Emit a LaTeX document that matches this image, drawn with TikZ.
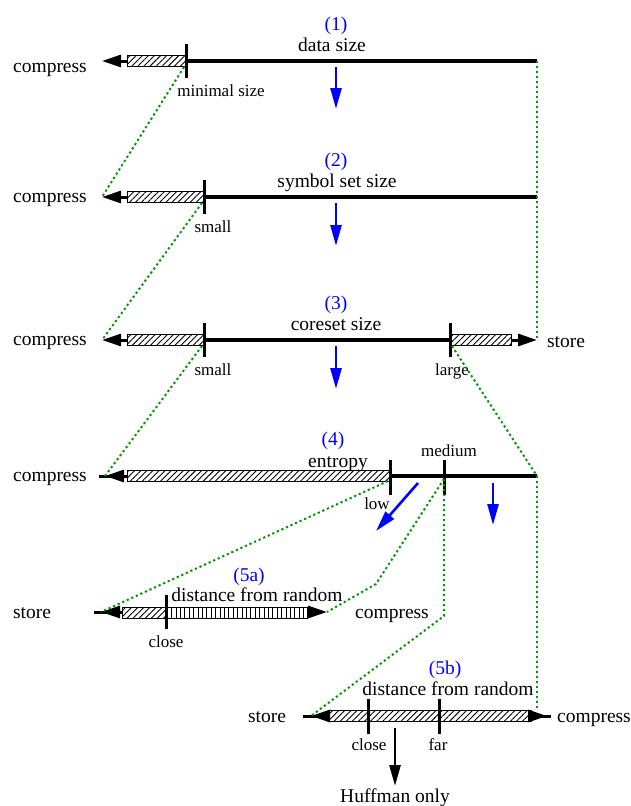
\documentclass[tikz,border=0pt]{standalone}
\usepackage{fontspec}
\setmainfont{Liberation Serif}
\usetikzlibrary{arrows.meta,patterns.meta}

\definecolor{linkgreen}{RGB}{0,150,0}
\definecolor{stepblue}{RGB}{0,0,255}

\begin{document}
\begin{tikzpicture}[x=1pt,y=-1pt,
  txt/.style={font=\fontsize{19.5}{22}\selectfont, anchor=base, inner sep=0pt},
  lbl/.style={font=\fontsize{17}{20}\selectfont, anchor=base, inner sep=0pt},
  num/.style={txt, text=stepblue},
  axis/.style={line width=3.4pt},
  tickmark/.style={line width=3pt},
  hatchbox/.style={draw, line width=0.9pt, pattern={Lines[angle=45,distance=4.3pt,line width=0.9pt]}},
  stripebox/.style={draw, line width=0.9pt, pattern={Lines[angle=90,distance=4.4pt,line width=1pt]}},
  endarrow/.style={line width=3pt, -{Triangle[length=19pt,width=12pt]}},
  bluearrow/.style={draw=stepblue, line width=2.6pt, -{Triangle[length=21pt,width=11pt]}},
  blackarrow/.style={line width=2.6pt, -{Triangle[length=21pt,width=11pt]}},
  link/.style={draw=linkgreen, line width=2pt, dash pattern=on 2.2pt off 2.8pt},
]
\useasboundingbox (0,0) rectangle (631,806);

% ---------- (1) data size ----------
\coordinate (t1) at (102,61);
\coordinate (b1l) at (127,61);
\coordinate (b1r) at (186,61);
\coordinate (e1) at (537,61);
\coordinate (k1) at (184,67);
\path[hatchbox] (127,55.5) rectangle (186,66.5);
\draw[axis] (b1r) -- (e1);
\draw[endarrow] (b1l) -- (t1);
\draw[tickmark] (186,44) -- (186,78);
\node[txt] (c1) at (50,72) {compress};
\node[num] (n1) at (336,30) {(1)};
\node[txt] (d1) at (332,51) {data size};
\node[lbl] (m1) at (221,96) {minimal size};
\coordinate (a1s) at (336,67);
\coordinate (a1e) at (336,109);
\draw[bluearrow] (a1s) -- (a1e);

% ---------- (2) symbol set size ----------
\coordinate (t2) at (102,197);
\coordinate (b2l) at (127,197);
\coordinate (b2r) at (204,197);
\coordinate (e2) at (537,197);
\coordinate (k2) at (202,203);
\path[hatchbox] (127,191.5) rectangle (204,202.5);
\draw[axis] (b2r) -- (e2);
\draw[endarrow] (b2l) -- (t2);
\draw[tickmark] (204,180) -- (204,214);
\node[txt] (c2) at (50,202) {compress};
\node[num] (n2) at (336,166) {(2)};
\node[txt] (d2) at (337,187) {symbol set size};
\node[lbl] (s2) at (213,232) {small};
\coordinate (a2s) at (336,203);
\coordinate (a2e) at (336,246);
\draw[bluearrow] (a2s) -- (a2e);

% ---------- (3) coreset size ----------
\coordinate (t3) at (102,340);
\coordinate (b3l) at (127,340);
\coordinate (b3r) at (204,340);
\coordinate (b3s) at (450,340);
\coordinate (b3t) at (511,340);
\coordinate (e3) at (537,340);
\coordinate (k3) at (202,346);
\coordinate (k3b) at (452,346);
\path[hatchbox] (127,334.5) rectangle (204,345.5);
\path[hatchbox] (450,334.5) rectangle (511,345.5);
\draw[axis] (b3r) -- (b3s);
\draw[endarrow] (b3l) -- (t3);
\draw[endarrow] (b3t) -- (e3);
\draw[tickmark] (204,323) -- (204,357);
\draw[tickmark] (450,323) -- (450,357);
\node[txt] (c3) at (50,345) {compress};
\node[txt] (st3) at (566,347) {store};
\node[num] (n3) at (336,309) {(3)};
\node[txt] (d3) at (336,330) {coreset size};
\node[lbl] (s3) at (213,375) {small};
\node[lbl] (l3) at (452,375) {large};
\coordinate (a3s) at (336,346);
\coordinate (a3e) at (336,389);
\draw[bluearrow] (a3s) -- (a3e);

% ---------- (4) entropy ----------
\coordinate (t4) at (105,476);
\coordinate (t4x) at (99,476);
\coordinate (b4l) at (127,476);
\coordinate (b4r) at (390,476);
\coordinate (mid4) at (444,476);
\coordinate (e4) at (537,476);
\coordinate (k4) at (388,481);
\coordinate (k4m) at (444,479);
\path[hatchbox] (127,470.5) rectangle (390,481.5);
\draw[axis] (b4r) -- (e4);
\draw[endarrow] (b4l) -- (t4);
\draw[line width=3pt] (b4l) -- (t4x);
\draw[tickmark] (390,460) -- (390,495);
\draw[tickmark] (444,460) -- (444,495);
\node[txt] (c4) at (50,481) {compress};
\node[num] (n4) at (333,445) {(4)};
\node[txt] (d4) at (338,467) {entropy};
\node[lbl] (m4) at (449,456) {medium};
\node[lbl] (lo4) at (377,509) {low};
\coordinate (a4s) at (418,483);
\coordinate (a4e) at (376,531);
\draw[bluearrow] (a4s) -- (a4e);
\coordinate (a5s) at (493,483);
\coordinate (a5e) at (493,525);
\draw[bluearrow] (a5s) -- (a5e);

% ---------- (5a) distance from random ----------
\coordinate (t5) at (101,612);
\coordinate (t5x) at (94,612);
\coordinate (b5l) at (122,612);
\coordinate (b5m) at (166,612);
\coordinate (b5r) at (307,612);
\coordinate (e5) at (327,612);
\path[hatchbox] (122,607) rectangle (166,618);
\path[stripebox] (166,607) rectangle (307,618);
\draw[endarrow] (b5l) -- (t5);
\draw[line width=3pt] (b5l) -- (t5x);
\draw[endarrow] (b5r) -- (e5);
\draw[tickmark] (166,595) -- (166,629);
\node[txt] (st5) at (32,618) {store};
\node[txt] (c5) at (392,618) {compress};
\node[num] (n5) at (249,581) {(5a)};
\node[txt] (d5) at (257,601) {distance from random};
\node[lbl] (cl5) at (166,647) {close};

% ---------- (5b) distance from random ----------
\coordinate (t6) at (311,716);
\coordinate (t6x) at (303,716);
\coordinate (b6l) at (329,716);
\coordinate (b6r) at (531,716);
\coordinate (e6) at (547,716);
\coordinate (e6x) at (551,716);
\coordinate (k6) at (537,711);
\path[hatchbox] (329,710.5) rectangle (531,721.5);
\draw[endarrow] (b6l) -- (t6);
\draw[line width=3pt] (b6l) -- (t6x);
\draw[endarrow] (b6r) -- (e6);
\draw[line width=3pt] (b6r) -- (e6x);
\draw[tickmark] (368,699) -- (368,734);
\draw[tickmark] (439,699) -- (439,734);
\node[txt] (st6) at (267,722) {store};
\node[txt] (c6) at (594,722) {compress};
\node[num] (n6) at (445,674) {(5b)};
\node[txt] (d6) at (448,695) {distance from random};
\node[lbl] (cl6) at (369,750) {close};
\node[lbl] (fa6) at (438,750) {far};
\coordinate (h6s) at (395,728);
\coordinate (h6e) at (395,786);
\draw[blackarrow] (h6s) -- (h6e);
\node[txt] (hf6) at (395,802) {Huffman only};

% ---------- dotted links between the stages ----------
\draw[link] (k1) -- (t2);
\draw[link] (e1) -- (e3);
\draw[link] (k2) -- (t3);
\draw[link] (k3) -- (t4);
\draw[link] (k3b) -- (e4);
\draw[link] (e4) -- (k6);
\draw[link] (k4) -- (t5);
\coordinate (bend5) at (376,584);
\draw[link] (k4m) -- (bend5) -- (e5);
\coordinate (bend6) at (444,616);
\draw[link] (k4m) -- (bend6) -- (t6);
\end{tikzpicture}
\end{document}
